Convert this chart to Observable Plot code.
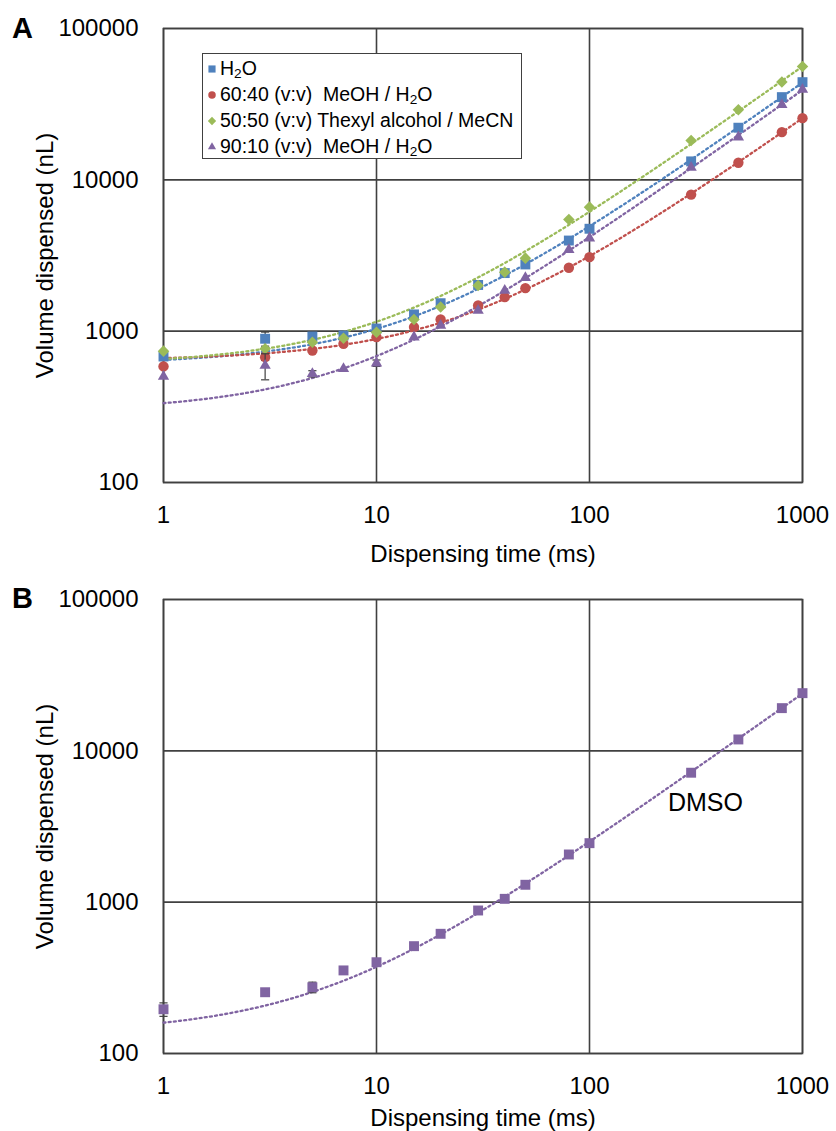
<!DOCTYPE html>
<html>
<head>
<meta charset="utf-8">
<script src="https://cdn.jsdelivr.net/npm/d3@7"></script>
<script src="https://cdn.jsdelivr.net/npm/@observablehq/plot@0.6"></script>
<style>
  body { margin: 0; background: #fff; font-family: Arial, "Liberation Sans", sans-serif; }
  #wrap { position: relative; width: 836px; height: 1131px; overflow: hidden; background: #fff; }
  .panel { position: absolute; left: 0; }
  .tag { position: absolute; font-weight: bold; font-size: 29px; color: #000; }
  #legend { position: absolute; left: 202px; top: 53px; width: 320px; height: 106px; border: 1.5px solid #404040; background: #fff; box-sizing: border-box; }
  .row { position: absolute; left: 4px; height: 26px; font-size: 19.5px; line-height: 26px; color: #000; white-space: pre; }
  .row svg { vertical-align: middle; margin-right: 3px; position: relative; top: -1px; }
  sub { font-size: 0.7em; vertical-align: -0.25em; line-height: 0; }
</style>
</head>
<body>
<div id="wrap">
  <div id="panelA" class="panel" style="top:0"></div>
  <div id="panelB" class="panel" style="top:570px"></div>
  <div class="tag" style="left:12px; top:12px">A</div>
  <div class="tag" style="left:12px; top:582px">B</div>
  <div id="legend"></div>
</div>
<script>
// ---- data ----
const times = [1, 3, 5, 7, 10, 15, 20, 30, 40, 50, 80, 100, 300, 500, 800, 1000];
const h2o    = [680, 891, 922, 936, 1040, 1290, 1530, 2020, 2420, 2760, 3970, 4750, 13240, 22100, 35200, 44200];
const meoh60 = [585, 673, 745, 826, 913, 1064, 1194, 1479, 1678, 1924, 2624, 3083, 7990, 12970, 20660, 25570];
const thexyl = [738, 765, 846, 899, 985, 1194, 1443, 2004, 2455, 3038, 5470, 6600, 18200, 29060, 44240, 56150];
const meoh90 = [502, 593, 523, 564, 615, 913, 1091, 1371, 1858, 2254, 3451, 4120, 12050, 19150, 31360, 39560];
const dmso   = [196, 254, 274, 354, 401, 512, 618, 881, 1052, 1303, 2066, 2454, 7168, 11890, 19150, 24050];

// error bars: [time, low, high]
const h2oErr    = [[3, 796, 986], [5, 885, 960]];
const meoh60Err = [[3, 640, 706]];
const meoh90Err = [[3, 477, 709], [5, 498, 548], [10, 585, 645]];
const dmsoErr   = [[1, 176, 216], [5, 252, 296]];

const seriesNames = ["H2O", "60:40 (v:v)  MeOH / H2O", "50:50 (v:v) Thexyl alcohol / MeCN", "90:10 (v:v)  MeOH / H2O"];
const seriesLabelsHtml = ["H<sub>2</sub>O", "60:40 (v:v)  MeOH / H<sub>2</sub>O", "50:50 (v:v) Thexyl alcohol / MeCN", "90:10 (v:v)  MeOH / H<sub>2</sub>O"];
const seriesColors = ["#4F81BD", "#C0504D", "#9BBB59", "#8064A2"];
const seriesSymbols = ["square", "circle", "diamond2", "triangle"];
const seriesR = [5.6, 5.2, 5.2, 4.2];

const xTicks = [1, 10, 100, 1000];
const yTicks = [100, 1000, 10000, 100000];
const dmsoLabel = [{label: "DMSO", t: 350, v: 4500}];

// ---- helpers ----
function linFit(xs, ys) {
  const mx = d3.mean(xs), my = d3.mean(ys);
  let sxy = 0, sxx = 0;
  for (let i = 0; i < xs.length; i++) { sxy += (xs[i] - mx) * (ys[i] - my); sxx += (xs[i] - mx) ** 2; }
  const b = sxy / sxx;
  return {slope: b, intercept: my - b * mx};
}
const sampleT = d3.range(0, 3.0001, 0.02).map(e => Math.pow(10, e));
function fitLine(name, ys) {
  const f = linFit(times, ys);
  return sampleT.map(t => ({series: name, t, v: f.intercept + f.slope * t}));
}
const pts = (name, ys) => times.map((t, i) => ({series: name, t, v: ys[i]}));
const errs = (name, arr) => arr.map(([t, lo, hi]) => ({series: name, t, lo, hi}));
const capSymbol = { draw(ctx, size) { const w = Math.sqrt(size); ctx.moveTo(-w, 0); ctx.lineTo(w, 0); } };

const gridColor = "#404040";

function basePlot(height, marginTop, marginBottom, xLabelOffset, marks) {
  return Plot.plot({
    width: 836, height, marginLeft: 163, marginRight: 34, marginTop, marginBottom,
    style: {fontFamily: "Arial, 'Liberation Sans', sans-serif", fontSize: "24px", color: "#000", background: "transparent"},
    x: {type: "log", domain: [1, 1000]},
    y: {type: "log", domain: [100, 100000]},
    marks: [
      Plot.gridX(xTicks, {stroke: gridColor, strokeOpacity: 1, strokeWidth: 1.6}),
      Plot.gridY(yTicks, {stroke: gridColor, strokeOpacity: 1, strokeWidth: 1.6}),
      Plot.frame({stroke: gridColor, strokeWidth: 1.6}),
      Plot.axisX(xTicks, {tickSize: 0, tickPadding: 23, tickFormat: d => String(d), fontSize: 24,
        label: "Dispensing time (ms)", labelAnchor: "center", labelArrow: "none", labelOffset: xLabelOffset}),
      Plot.axisY(yTicks, {tickSize: 0, tickPadding: 25, tickFormat: d => String(d), fontSize: 24,
        label: "Volume dispensed (nL)", labelAnchor: "center", labelArrow: "none", labelOffset: 128}),
      ...marks
    ]
  });
}

const fitStyle = {strokeWidth: 2.3, strokeDasharray: "2,3.2"};

// ---- panel A ----
const allY = [h2o, meoh60, thexyl, meoh90];
const allErr = [h2oErr, meoh60Err, [], meoh90Err];
const marksA = [];
allY.forEach((ys, i) => {
  marksA.push(Plot.line(fitLine(seriesNames[i], ys), {x: "t", y: "v", stroke: seriesColors[i], ...fitStyle}));
});
allY.forEach((ys, i) => {
  const e = errs(seriesNames[i], allErr[i]);
  marksA.push(Plot.ruleX(e, {x: "t", y1: "lo", y2: "hi", stroke: "#404040", strokeWidth: 1.2}));
  marksA.push(Plot.dot(e, {x: "t", y: "lo", symbol: capSymbol, r: 2.3, stroke: "#404040", strokeWidth: 1.2, fill: "none"}));
  marksA.push(Plot.dot(e, {x: "t", y: "hi", symbol: capSymbol, r: 2.3, stroke: "#404040", strokeWidth: 1.2, fill: "none"}));
  marksA.push(Plot.dot(pts(seriesNames[i], ys), {x: "t", y: "v", symbol: seriesSymbols[i], r: seriesR[i], fill: seriesColors[i], stroke: "none"}));
});
document.getElementById("panelA").append(basePlot(570, 28, 88, 79, marksA));

// ---- panel B ----
const eB = errs("DMSO", dmsoErr);
const marksB = [
  Plot.line(fitLine("DMSO", dmso), {x: "t", y: "v", stroke: "#8064A2", ...fitStyle}),
  Plot.ruleX(eB, {x: "t", y1: "lo", y2: "hi", stroke: "#404040", strokeWidth: 1.2}),
  Plot.dot(eB, {x: "t", y: "lo", symbol: capSymbol, r: 2.3, stroke: "#404040", strokeWidth: 1.2, fill: "none"}),
  Plot.dot(eB, {x: "t", y: "hi", symbol: capSymbol, r: 2.3, stroke: "#404040", strokeWidth: 1.2, fill: "none"}),
  Plot.dot(pts("DMSO", dmso), {x: "t", y: "v", symbol: "square", r: 5.6, fill: "#8064A2", stroke: "none"}),
  Plot.text(dmsoLabel, {x: "t", y: "v", text: "label", fontSize: 25, fill: "#000", textAnchor: "middle"})
];
document.getElementById("panelB").append(basePlot(561, 29, 78, 72, marksB));

// ---- legend ----
const legend = document.getElementById("legend");
const rowTops = [1, 27, 53, 79];
seriesNames.forEach((name, i) => {
  const row = document.createElement("div");
  row.className = "row";
  row.style.top = rowTops[i] + "px";
  const sym = d3.symbol(({square: d3.symbolSquare, circle: d3.symbolCircle, diamond2: d3.symbolDiamond2, triangle: d3.symbolTriangle})[seriesSymbols[i]], Math.PI * (seriesR[i] * 0.72) ** 2)();
  row.innerHTML = `<svg width="10" height="12" viewBox="-5 -6 10 12"><path d="${sym}" fill="${seriesColors[i]}"></path></svg>` + seriesLabelsHtml[i];
  legend.append(row);
});
</script>
</body>
</html>
